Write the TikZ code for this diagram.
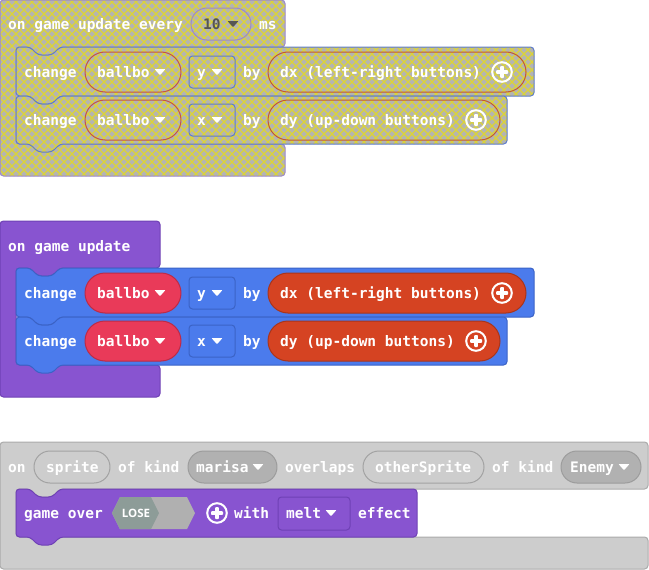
\documentclass[tikz,border=0pt]{standalone}
\usepackage{fontspec}
\newfontfamily\blockfont{DejaVu Sans Mono}
\newfontfamily\tagfont{Open Sans}
\usetikzlibrary{patterns.meta}

% colours of the block categories
\definecolor{gamepurple}{HTML}{8854D0}
\definecolor{gamepurpleD}{HTML}{6F41B5}
\definecolor{spriteblue}{HTML}{4B7BEC}
\definecolor{spriteblueD}{HTML}{3B63C6}
\definecolor{varred}{HTML}{E93A59}
\definecolor{varredD}{HTML}{BC2B47}
\definecolor{ctrlorange}{HTML}{D54322}
\definecolor{ctrlorangeD}{HTML}{A9351B}
\definecolor{eventgrey}{HTML}{CDCDCD}
\definecolor{eventgreyD}{HTML}{ABABAB}
\definecolor{kindgrey}{HTML}{B1B1B1}
\definecolor{kindgreyD}{HTML}{9C9C9C}
\definecolor{slotline}{HTML}{A2A2A2}
\definecolor{hexlight}{HTML}{B0B0B0}
\definecolor{hexdark}{HTML}{8D9C98}
% disabled (hatched) blocks
\definecolor{offgrey}{HTML}{B4B4B2}
\definecolor{offyellow}{HTML}{DCD436}
\definecolor{offpurple}{HTML}{9C88CC}
\definecolor{offblue}{HTML}{5E7CCC}
\definecolor{offred}{HTML}{C4524A}
\definecolor{offorange}{HTML}{C25836}
\definecolor{offtext}{HTML}{555555}

% yellow cross-hatching of a disabled block
\pgfdeclarepattern{
  name=offhatch,
  type=uncolored,
  bottom left={\pgfpoint{-0.5pt}{-0.5pt}},
  top right={\pgfpoint{8.5pt}{8.5pt}},
  tile size={\pgfpoint{8pt}{8pt}},
  code={
    \pgfsetlinewidth{1.1pt}
    \pgfpathmoveto{\pgfpoint{-0.5pt}{-0.5pt}}
    \pgfpathlineto{\pgfpoint{8.5pt}{8.5pt}}
    \pgfpathmoveto{\pgfpoint{-0.5pt}{8.5pt}}
    \pgfpathlineto{\pgfpoint{8.5pt}{-0.5pt}}
    \pgfusepath{stroke}
  }
}

% statement block with a notch on top and a tab below
\newcommand{\stmtshape}[5][]{%
  \draw[blk,#1] (#2,#3) -- ({#2+14},#3) -- ({#2+22},{#3+8}) -- ({#2+36},{#3+8})
    -- ({#2+44},#3) -- (#4,#3) -- (#4,#5) -- ({#2+44},#5) -- ({#2+36},{#5+8})
    -- ({#2+22},{#5+8}) -- ({#2+14},#5) -- (#2,#5) -- cycle;}

\tikzset{
  blk/.style={rounded corners=3.5, line width=1},
  offfill/.style={preaction={fill=offgrey}, pattern=offhatch, pattern color=offyellow},
  word/.style={font=\blockfont\bfseries\fontsize{14.5}{16}\selectfont, text=white,
    inner sep=0, anchor=base west},
  pill/.style={rounded corners=16, line width=1},
  slot/.style={rounded corners=3.5, line width=1},
  ddtri/.pic={\fill[rounded corners=0.7] (-5.5,-3) -- (5.5,-3) -- (0,3.2) -- cycle;},
  addbtn/.pic={
    \draw[white, line width=2] (0,0) circle (9.8);
    \fill[white, rounded corners=0.8] (-6,-1.8) rectangle (6,1.8);
    \fill[white, rounded corners=0.8] (-1.8,-6) rectangle (1.8,6);}
}

\begin{document}
\begin{tikzpicture}[x=1pt, y=-1pt, line join=round]
\useasboundingbox (0,0) rectangle (649,570);

% ---------- on game update every 10 ms (disabled) ----------
\draw[blk, offfill, draw=offpurple] (0,0) -- (285,0) -- (285,47) -- (60,47) -- (52,55)
  -- (38,55) -- (30,47) -- (16,47) -- (16,144) -- (285,144) -- (285,176) -- (0,176) -- cycle;
\stmtshape[offfill, draw=offblue]{16}{47}{534}{96}
\stmtshape[offfill, draw=offblue]{16}{96}{507}{144}

\node[word] (h1) at (8,30) {on game update every};
\draw[pill, offfill, draw=offpurple] (191,8) rectangle (251,40);
\node[word, text=offtext] (h1v) at (203,30) {10};
\pic[offtext] at (233,24) {ddtri};
\node[word] (h1u) at (259,30) {ms};

\node[word] (a1) at (24,77) {change};
\draw[pill, rounded corners=20, offfill, draw=offred] (85,52) rectangle (181,92);
\node[word] (a1v) at (97,77) {ballbo};
\pic[white] at (160,72) {ddtri};
\draw[slot, offfill, draw=offblue] (189,56) rectangle (235,88);
\node[word] (a1p) at (197,77) {y};
\pic[white] at (217,72) {ddtri};
\node[word] (a1b) at (243,77) {by};
\draw[pill, rounded corners=20, offfill, draw=offorange] (268,52) rectangle (526,92);
\node[word] (a1e) at (280,77) {dx (left-right buttons)};
\pic at (502,72) {addbtn};

\node[word] (a2) at (24,125) {change};
\draw[pill, rounded corners=20, offfill, draw=offred] (85,100) rectangle (181,140);
\node[word] (a2v) at (97,125) {ballbo};
\pic[white] at (160,120) {ddtri};
\draw[slot, offfill, draw=offblue] (189,104) rectangle (235,136);
\node[word] (a2p) at (197,125) {x};
\pic[white] at (217,120) {ddtri};
\node[word] (a2b) at (243,125) {by};
\draw[pill, rounded corners=20, offfill, draw=offorange] (268,100) rectangle (500,140);
\node[word] (a2e) at (280,125) {dy (up-down buttons)};
\pic at (476,120) {addbtn};

% ---------- on game update ----------
\draw[blk, fill=gamepurple, draw=gamepurpleD] (0,221) -- (160,221) -- (160,268) -- (60,268)
  -- (52,276) -- (38,276) -- (30,268) -- (16,268) -- (16,365) -- (160,365) -- (160,397)
  -- (0,397) -- cycle;
\stmtshape[fill=spriteblue, draw=spriteblueD]{16}{268}{534}{317}
\stmtshape[fill=spriteblue, draw=spriteblueD]{16}{317}{507}{365}

\node[word] (h2) at (8,251) {on game update};

\node[word] (b1) at (24,298) {change};
\draw[pill, rounded corners=20, fill=varred, draw=varredD] (85,273) rectangle (181,313);
\node[word] (b1v) at (97,298) {ballbo};
\pic[white] at (160,293) {ddtri};
\draw[slot, fill=spriteblue, draw=spriteblueD] (189,277) rectangle (235,309);
\node[word] (b1p) at (197,298) {y};
\pic[white] at (217,293) {ddtri};
\node[word] (b1b) at (243,298) {by};
\draw[pill, rounded corners=20, fill=ctrlorange, draw=ctrlorangeD] (268,273) rectangle (526,313);
\node[word] (b1e) at (280,298) {dx (left-right buttons)};
\pic at (502,293) {addbtn};

\node[word] (b2) at (24,346) {change};
\draw[pill, rounded corners=20, fill=varred, draw=varredD] (85,321) rectangle (181,361);
\node[word] (b2v) at (97,346) {ballbo};
\pic[white] at (160,341) {ddtri};
\draw[slot, fill=spriteblue, draw=spriteblueD] (189,325) rectangle (235,357);
\node[word] (b2p) at (197,346) {x};
\pic[white] at (217,341) {ddtri};
\node[word] (b2b) at (243,346) {by};
\draw[pill, rounded corners=20, fill=ctrlorange, draw=ctrlorangeD] (268,321) rectangle (500,361);
\node[word] (b2e) at (280,346) {dy (up-down buttons)};
\pic at (476,341) {addbtn};

% ---------- on sprite overlaps ----------
\draw[blk, fill=eventgrey, draw=eventgreyD] (0,442) -- (648,442) -- (648,489) -- (60,489)
  -- (52,497) -- (38,497) -- (30,489) -- (16,489) -- (16,537) -- (648,537) -- (648,569)
  -- (0,569) -- cycle;
\stmtshape[fill=gamepurple, draw=gamepurpleD]{16}{489}{417}{537}

\node[word] (c0) at (8,472) {on};
\draw[pill, fill=eventgrey, draw=slotline] (34,451) rectangle (110,483);
\node[word] (c1) at (46,472) {sprite};
\node[word] (c2) at (118,472) {of kind};
\draw[pill, fill=kindgrey, draw=kindgreyD] (188,451) rectangle (277,483);
\node[word] (c3) at (196,472) {marisa};
\pic[white] at (258,467) {ddtri};
\node[word] (c4) at (285,472) {overlaps};
\draw[pill, fill=eventgrey, draw=slotline] (363,451) rectangle (484,483);
\node[word] (c5) at (375,472) {otherSprite};
\node[word] (c6) at (492,472) {of kind};
\draw[pill, fill=kindgrey, draw=kindgreyD] (561,451) rectangle (641,483);
\node[word] (c7) at (570,472) {Enemy};
\pic[white] at (624,467) {ddtri};

\node[word] (d0) at (24,518.5) {game over};
\fill[hexlight] (112,513) -- (120,497) -- (187,497) -- (195,513) -- (187,529) -- (120,529) -- cycle;
\fill[hexdark] (112,513) -- (120,497) -- (151,497) -- (159,513) -- (151,529) -- (120,529) -- cycle;
\node[font=\tagfont\bfseries\fontsize{11.5}{13}\selectfont, text=white, inner sep=0] (d1) at (136,513) {LOSE};
\pic at (217,513) {addbtn};
\node[word] (d2) at (234,518.5) {with};
\draw[slot, fill=gamepurple, draw=gamepurpleD] (278,497) rectangle (350,530);
\node[word] (d3) at (286,518.5) {melt};
\pic[white] at (331,513) {ddtri};
\node[word] (d4) at (358,518.5) {effect};
\end{tikzpicture}
\end{document}
